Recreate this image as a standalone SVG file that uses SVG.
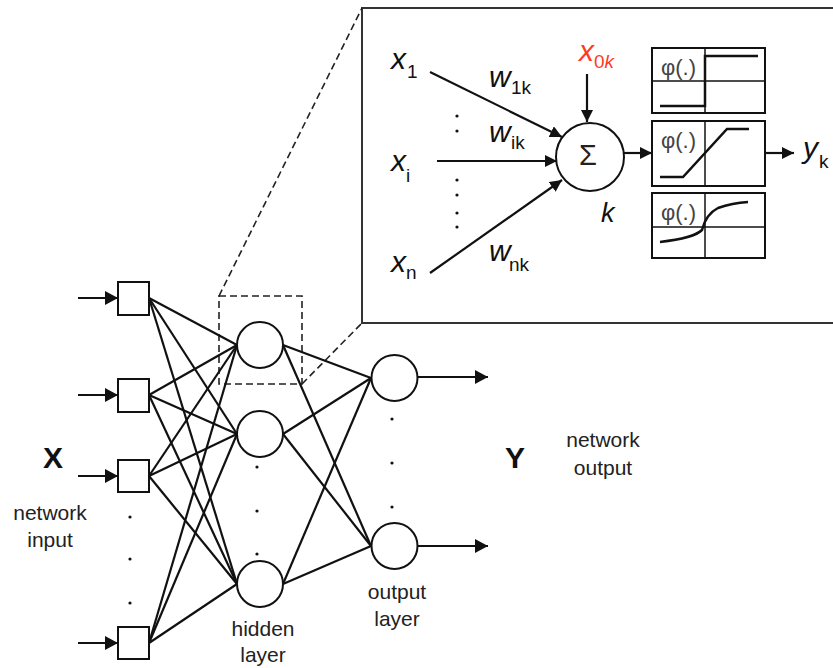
<svg xmlns="http://www.w3.org/2000/svg" width="833" height="668" viewBox="0 0 833 668">
<style>
.ln{stroke:#111;stroke-width:2.2;fill:none}
.arr{stroke:#111;stroke-width:2.2;fill:none;marker-end:url(#ah)}
.dash{stroke:#222;stroke-width:1.6;fill:none;stroke-dasharray:7 4}
.nd{fill:#fff;stroke:#111;stroke-width:2}
.t{font-family:"Liberation Sans",Arial,sans-serif;fill:#222;font-size:21px}
.b{font-family:"Liberation Sans",Arial,sans-serif;font-weight:bold;fill:#111;font-size:30px}
.it{font-family:"Liberation Sans",Arial,sans-serif;font-style:italic;fill:#111;font-size:30px}
.sub{font-family:"Liberation Sans",Arial,sans-serif;fill:#111;font-size:19px}
.phi{font-family:"Liberation Sans",Arial,sans-serif;fill:#444;font-size:22px}
.dot{fill:#111}
</style>
<defs>
<marker id="ah" markerUnits="userSpaceOnUse" markerWidth="14" markerHeight="14" refX="13" refY="7" orient="auto">
<path d="M0,0 L13,7 L0,14 z" fill="#111"/>
</marker>
<marker id="ahs" markerUnits="userSpaceOnUse" markerWidth="12" markerHeight="12" refX="12" refY="6" orient="auto">
<path d="M0,0 L12,6 L0,12 z" fill="#111"/>
</marker>
</defs>

<g id="zoom-frame">
<path d="M840,8 H362 V323 H840" fill="none" stroke="#333" stroke-width="2"/>
<rect x="219" y="296" width="83" height="88" class="dash"/>
<line x1="219" y1="296" x2="362" y2="8" class="dash"/>
<line x1="302" y1="384" x2="362" y2="323" class="dash"/>
</g>

<g id="connectors">
<line x1="78" y1="298" x2="118" y2="298" class="arr"/>
<line x1="78" y1="395" x2="118" y2="395" class="arr"/>
<line x1="78" y1="476" x2="118" y2="476" class="arr"/>
<line x1="78" y1="643" x2="118" y2="643" class="arr"/>
<g class="ln">
<line x1="149" y1="298" x2="237" y2="345"/>
<line x1="149" y1="298" x2="237" y2="434"/>
<line x1="149" y1="298" x2="237" y2="584"/>
<line x1="149" y1="395" x2="237" y2="345"/>
<line x1="149" y1="395" x2="237" y2="434"/>
<line x1="149" y1="395" x2="237" y2="584"/>
<line x1="149" y1="476" x2="237" y2="345"/>
<line x1="149" y1="476" x2="237" y2="434"/>
<line x1="149" y1="476" x2="237" y2="584"/>
<line x1="149" y1="643" x2="237" y2="345"/>
<line x1="149" y1="643" x2="237" y2="434"/>
<line x1="149" y1="643" x2="237" y2="584"/>
<line x1="283" y1="345" x2="371" y2="378"/>
<line x1="283" y1="345" x2="371" y2="546"/>
<line x1="283" y1="434" x2="371" y2="378"/>
<line x1="283" y1="434" x2="371" y2="546"/>
<line x1="283" y1="584" x2="371" y2="378"/>
<line x1="283" y1="584" x2="371" y2="546"/>
</g>
<line x1="418" y1="377" x2="488" y2="377" class="arr"/>
<line x1="418" y1="546" x2="488" y2="546" class="arr"/>
<line x1="430" y1="72" x2="562" y2="137" class="arr" style="marker-end:url(#ahs)"/>
<line x1="437" y1="161" x2="557" y2="161" class="arr" style="marker-end:url(#ahs)"/>
<line x1="430" y1="273" x2="562" y2="180" class="arr" style="marker-end:url(#ahs)"/>
<line x1="587" y1="74" x2="587" y2="122" class="arr" style="marker-end:url(#ahs)"/>
<line x1="624" y1="153" x2="652" y2="153" class="arr" style="marker-end:url(#ahs)"/>
<line x1="765" y1="153" x2="794" y2="153" class="arr" style="marker-end:url(#ahs)"/>
</g>

<g id="input-nodes">
<rect x="118" y="282" width="31" height="33" class="nd"/>
<rect x="118" y="379" width="31" height="33" class="nd"/>
<rect x="118" y="460" width="31" height="32" class="nd"/>
<rect x="118" y="627" width="31" height="32" class="nd"/>
<circle cx="130" cy="517" r="1.6" class="dot"/>
<circle cx="130" cy="559" r="1.6" class="dot"/>
<circle cx="130" cy="603" r="1.6" class="dot"/>
</g>

<g id="hidden-nodes">
<circle cx="260" cy="345" r="23" class="nd"/>
<circle cx="260" cy="434" r="23" class="nd"/>
<circle cx="260" cy="584" r="23" class="nd"/>
<circle cx="257" cy="467" r="1.6" class="dot"/>
<circle cx="257" cy="511" r="1.6" class="dot"/>
<circle cx="257" cy="554" r="1.6" class="dot"/>
</g>

<g id="output-nodes">
<circle cx="394.5" cy="378" r="23" class="nd"/>
<circle cx="394.5" cy="546" r="23" class="nd"/>
<circle cx="392" cy="419" r="1.6" class="dot"/>
<circle cx="392" cy="463" r="1.6" class="dot"/>
<circle cx="392" cy="507" r="1.6" class="dot"/>
</g>

<g id="labels">
<text x="53" y="468" class="b" text-anchor="middle">X</text>
<text x="50" y="520" class="t" text-anchor="middle">network</text>
<text x="50" y="547" class="t" text-anchor="middle">input</text>
<text x="263" y="636" class="t" text-anchor="middle">hidden</text>
<text x="263" y="662" class="t" text-anchor="middle">layer</text>
<text x="397" y="599" class="t" text-anchor="middle">output</text>
<text x="397" y="626" class="t" text-anchor="middle">layer</text>
<text x="515" y="468" class="b" text-anchor="middle">Y</text>
<text x="603" y="447" class="t" text-anchor="middle">network</text>
<text x="603" y="475" class="t" text-anchor="middle">output</text>
</g>

<g id="neuron-inputs">
<text x="391" y="69" class="it">x</text><text x="407" y="78" class="sub">1</text>
<text x="391" y="171" class="it">x</text><text x="406" y="182" class="sub">i</text>
<text x="391" y="272" class="it">x</text><text x="406" y="279" class="sub">n</text>
<text x="489" y="87" class="it">w</text><text x="511" y="94" class="sub">1k</text>
<text x="489" y="142" class="it">w</text><text x="511" y="149" class="sub">ik</text>
<text x="489" y="261" class="it">w</text><text x="509" y="271" class="sub">nk</text>
<circle cx="457" cy="116" r="1.6" class="dot"/>
<circle cx="457" cy="131" r="1.6" class="dot"/>
<circle cx="457" cy="180" r="1.6" class="dot"/>
<circle cx="457" cy="195" r="1.6" class="dot"/>
<circle cx="457" cy="213" r="1.6" class="dot"/>
<circle cx="457" cy="227" r="1.6" class="dot"/>
</g>

<g id="neuron-k">
<text x="579" y="61" class="it" style="fill:#ff3a1e">x</text><text x="594" y="68" class="sub" style="fill:#ff3a1e">0<tspan font-style="italic">k</tspan></text>
<circle cx="590" cy="157" r="34" class="nd"/>
<text x="588" y="165" class="t" style="font-size:29px;fill:#222" text-anchor="middle">Σ</text>
<text x="601" y="222" class="it" style="font-size:27px">k</text>
</g>

<g id="activation-step">
<rect x="652" y="48" width="113" height="65" class="nd"/>
<line x1="705" y1="48" x2="705" y2="113" stroke="#111" stroke-width="1.5"/>
<line x1="652" y1="81" x2="765" y2="81" stroke="#111" stroke-width="1.5"/>
<text x="661" y="75" class="phi">φ(.)</text>
<polyline points="660,106 705,106 705,56 758,56" fill="none" stroke="#111" stroke-width="2.5"/>
</g>

<g id="activation-ramp">
<rect x="652" y="121" width="113" height="65" class="nd"/>
<line x1="705" y1="121" x2="705" y2="186" stroke="#111" stroke-width="1.5"/>
<text x="661" y="148" class="phi">φ(.)</text>
<polyline points="660,177 683,177 727,129 749,129" fill="none" stroke="#111" stroke-width="2.5"/>
</g>

<g id="activation-sigmoid">
<rect x="652" y="193" width="113" height="65" class="nd"/>
<line x1="705" y1="193" x2="705" y2="258" stroke="#111" stroke-width="1.5"/>
<line x1="652" y1="227" x2="765" y2="227" stroke="#111" stroke-width="1.5"/>
<text x="661" y="220" class="phi">φ(.)</text>
<path d="M660,242 Q694,238 702,230 Q706,214 718,208 Q732,203 748,202" fill="none" stroke="#111" stroke-width="2.5"/>
</g>

<g id="output-yk">
<text x="803" y="158" class="it">y</text><text x="819" y="168" class="sub">k</text>
</g>
</svg>
